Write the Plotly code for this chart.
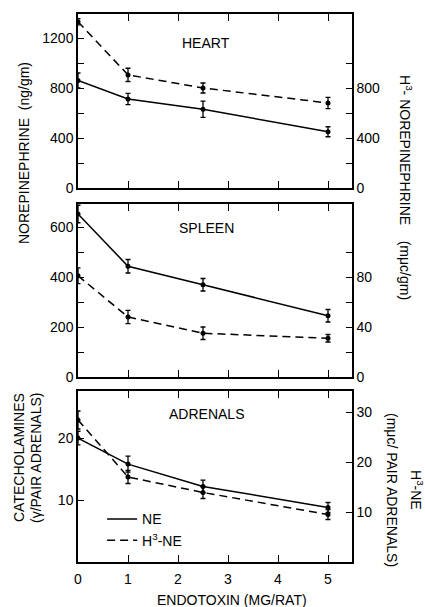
import plotly.graph_objects as go

# ---- data ----
dose = [0, 1, 2.5, 5]

heart_ne = [860, 712, 630, 450]
heart_ne_err = [60, 45, 65, 40]
heart_h3 = [1330, 905, 800, 680]
heart_h3_err = [25, 53, 40, 45]

spleen_ne = [652, 443, 369, 245]
spleen_ne_err = [35, 27, 25, 25]
spleen_h3 = [81, 48, 35, 31]
spleen_h3_err = [6.3, 5.3, 5, 3]

adr_ne = [20.0, 15.8, 12.2, 8.8]
adr_ne_err = [1.1, 1.3, 1.0, 0.8]
adr_h3 = [28.4, 17.0, 13.9, 9.5]
adr_h3_err = [1.8, 1.3, 1.2, 1.0]

x_ticks = [0, 1, 2, 3, 4, 5]

FONT = "Liberation Sans"
BLACK = "black"
LW = 1.5
DASH = "8px,5px"

fig = go.Figure()


def add_series(x, y, err, xa, ya, dash, name, legend):
    fig.add_trace(go.Scatter(
        x=x, y=y, xaxis=xa, yaxis=ya, mode="lines",
        line=dict(color=BLACK, width=LW, dash=dash),
        name=name, showlegend=legend, hoverinfo="skip"))
    fig.add_trace(go.Scatter(
        x=x, y=y, xaxis=xa, yaxis=ya, mode="markers",
        marker=dict(color=BLACK, size=5),
        error_y=dict(type="data", array=err, color=BLACK, thickness=1.3, width=2.5),
        showlegend=False, name=name))


add_series(dose, heart_ne, heart_ne_err, "x3", "y5", "solid", "NE", False)
add_series(dose, heart_h3, heart_h3_err, "x3", "y6", DASH, "H³-NE", False)
add_series(dose, spleen_ne, spleen_ne_err, "x2", "y3", "solid", "NE", False)
add_series(dose, spleen_h3, spleen_h3_err, "x2", "y4", DASH, "H³-NE", False)
add_series(dose, adr_ne, adr_ne_err, "x", "y", "solid", "NE", True)
add_series(dose, adr_h3, adr_h3_err, "x", "y2", DASH, "H<sup>3</sup>-NE", True)

H = 548.0
def dom(top_px, bot_px):
    return [(562 - bot_px) / H, (562 - top_px) / H]

d_heart = dom(14, 188)
d_spleen = dom(204, 377)
d_adr = dom(391, 562)

tickfont = dict(family=FONT, size=14, color=BLACK)
minor_t = dict(ticks="inside", ticklen=6, tickcolor=BLACK, tickwidth=1.2)
xcommon = dict(range=[0, 5.48], tickvals=x_ticks, ticks="inside", ticklen=7,
               tickwidth=1.2, tickcolor=BLACK, showline=True, linecolor=BLACK,
               linewidth=LW, mirror="ticks", showgrid=False, zeroline=False,
               tickfont=tickfont)
ycommon = dict(ticks="inside", ticklen=6, tickwidth=1.2, tickcolor=BLACK,
               showline=True, linecolor=BLACK, linewidth=LW, showgrid=False,
               zeroline=False, tickfont=tickfont)

fig.update_layout(
    width=425, height=607,
    margin=dict(l=78, r=73, t=14, b=45),
    paper_bgcolor="white", plot_bgcolor="white",
    font=dict(family=FONT, size=14, color=BLACK),
    xaxis=dict(**xcommon, anchor="y", domain=[0, 1], ticklabelstandoff=3),
    xaxis2=dict(**xcommon, anchor="y3", domain=[0, 1], showticklabels=False),
    xaxis3=dict(**xcommon, anchor="y5", domain=[0, 1], showticklabels=False),
    # adrenals
    yaxis=dict(**ycommon, domain=d_adr, anchor="x", range=[0, 27.6],
               tickvals=[10, 20], mirror=True),
    yaxis2=dict(**ycommon, overlaying="y", side="right", anchor="x",
                range=[0, 34.2], tickvals=[10, 20, 30]),
    # spleen
    yaxis3=dict(**ycommon, domain=d_spleen, anchor="x2", range=[0, 692],
                tickvals=[0, 200, 400, 600], mirror=True,
                minor=dict(tickvals=[100, 300, 500], **minor_t)),
    yaxis4=dict(**ycommon, overlaying="y3", side="right", anchor="x2",
                range=[0, 138.4], tickvals=[0, 40, 80],
                minor=dict(tickvals=[20, 60, 100], **minor_t)),
    # heart
    yaxis5=dict(**ycommon, domain=d_heart, anchor="x3", range=[0, 1392],
                tickvals=[0, 400, 800, 1200], mirror=True,
                minor=dict(tickvals=[200, 600, 1000], **minor_t)),
    yaxis6=dict(**ycommon, overlaying="y5", side="right", anchor="x3",
                range=[0, 1392], tickvals=[0, 400, 800],
                minor=dict(tickvals=[200, 600, 1000], **minor_t)),
    legend=dict(x=0.088, y=0.107, xanchor="left", yanchor="top",
                bgcolor="rgba(0,0,0,0)", font=dict(family=FONT, size=14),
                itemwidth=30, tracegroupgap=0),
)

def px_x(px):
    return (px - 78) / 274.0

def px_y(py):
    return (562 - py) / H

ann = [
    dict(text="HEART", x=px_x(206), y=px_y(43)),
    dict(text="SPLEEN", x=px_x(206), y=px_y(228)),
    dict(text="ADRENALS", x=px_x(206), y=px_y(414)),
    dict(text="NOREPINEPHRINE  (ng/gm)", x=px_x(24), y=px_y(153), textangle=-90),
    dict(text="H<sup>3</sup>- NOREPINEPHRINE    (mμc/gm)", x=px_x(406), y=px_y(187), textangle=90),
    dict(text="CATECHOLAMINES", x=px_x(19), y=px_y(458), textangle=-90),
    dict(text="(γ/PAIR ADRENALS)", x=px_x(36), y=px_y(458), textangle=-90),
    dict(text="(mμc/ PAIR ADRENALS)", x=px_x(392), y=px_y(490), textangle=90),
    dict(text="H<sup>3</sup>-NE", x=px_x(417), y=px_y(490), textangle=90),
    dict(text="ENDOTOXIN (MG/RAT)", x=px_x(232), y=px_y(600)),
]
for a in ann:
    fig.add_annotation(xref="paper", yref="paper", showarrow=False,
                       xanchor="center", yanchor="middle",
                       font=dict(family=FONT, size=14, color=BLACK), **a)

fig.write_html("out.html")
